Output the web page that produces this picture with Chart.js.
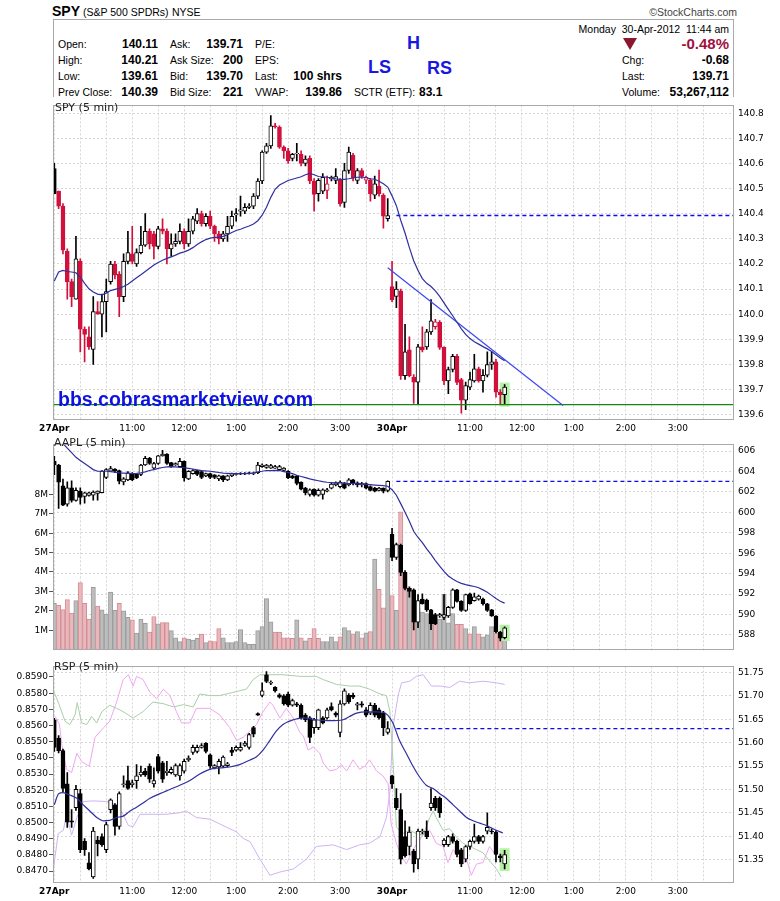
<!DOCTYPE html>
<html>
<head>
<meta charset="utf-8">
<title>SPY 5 min</title>
<script src="https://cdn.jsdelivr.net/npm/chart.js@4.4.1/dist/chart.umd.min.js"></script>
<style>
  html, body { margin: 0; padding: 0; background: #fff; }
  body { position: relative; width: 780px; height: 901px; overflow: hidden; font-family: "Liberation Sans", Arial, sans-serif; color: #000; }
  .t { position: absolute; white-space: nowrap; font-size: 10.5px; line-height: 12px; }
  .v { font-weight: bold; font-size: 12px; }
  .pat { position: absolute; font-weight: bold; font-size: 18px; line-height: 18px; color: #1818e0; }
  .lbl { position: absolute; z-index: 2; font-family: "DejaVu Sans", sans-serif; font-size: 11px; line-height: 12px; color: #222; white-space: nowrap; }
  canvas { position: absolute; left: 0; }
  #box { position: absolute; left: 53px; top: 19px; width: 681px; height: 78px; border: 1px solid #aaa; border-bottom: 0; box-sizing: border-box; }
  #tri { position: absolute; left: 623px; top: 38px; width: 0; height: 0; border-left: 7px solid transparent; border-right: 7px solid transparent; border-top: 12px solid #8a1730; }
  #wm { position: absolute; z-index: 2; left: 58px; top: 389px; font-weight: bold; font-size: 19.5px; line-height: 20px; color: #0d12e0; white-space: nowrap; }
</style>
</head>
<body>

<div class="t" style="left:52px;top:4px;font-size:14px;font-weight:bold;line-height:14px">SPY</div>
<div class="t" style="left:83px;top:6px">(S&amp;P 500 SPDRs)</div>
<div class="t" style="left:172px;top:6px">NYSE</div>
<div class="t" style="right:43px;top:6px;color:#444">&copy;StockCharts.com</div>

<div id="box"></div>
<div class="t" style="right:51px;top:23px">Monday&nbsp;&nbsp;30-Apr-2012&nbsp;&nbsp;11:44 am</div>

<div class="t" style="left:58px;top:38px">Open:</div>
<div class="t v" style="right:622px;top:38px">140.11</div>
<div class="t" style="left:170px;top:38px">Ask:</div>
<div class="t v" style="right:537px;top:38px">139.71</div>
<div class="t" style="left:255px;top:38px">P/E:</div>

<div class="t" style="left:58px;top:54px">High:</div>
<div class="t v" style="right:622px;top:54px">140.21</div>
<div class="t" style="left:170px;top:54px">Ask Size:</div>
<div class="t v" style="right:537px;top:54px">200</div>
<div class="t" style="left:255px;top:54px">EPS:</div>

<div class="t" style="left:58px;top:70px">Low:</div>
<div class="t v" style="right:622px;top:70px">139.61</div>
<div class="t" style="left:170px;top:70px">Bid:</div>
<div class="t v" style="right:537px;top:70px">139.70</div>
<div class="t" style="left:255px;top:70px">Last:</div>
<div class="t v" style="right:438px;top:70px">100 shrs</div>

<div class="t" style="left:58px;top:86px">Prev Close:</div>
<div class="t v" style="right:622px;top:86px">140.39</div>
<div class="t" style="left:170px;top:86px">Bid Size:</div>
<div class="t v" style="right:537px;top:86px">221</div>
<div class="t" style="left:255px;top:86px">VWAP:</div>
<div class="t v" style="right:438px;top:86px">139.86</div>
<div class="t" style="left:354px;top:86px">SCTR (ETF):</div>
<div class="t v" style="left:419px;top:86px">83.1</div>

<div class="pat" style="left:407px;top:34px">H</div>
<div class="pat" style="left:368px;top:58px">LS</div>
<div class="pat" style="left:427px;top:59px">RS</div>

<div id="tri"></div>
<div class="t" style="right:51px;top:36px;font-size:15px;line-height:16px;font-weight:bold;color:#a01040">-0.48%</div>
<div class="t" style="left:622px;top:54px">Chg:</div>
<div class="t v" style="right:51px;top:54px">-0.68</div>
<div class="t" style="left:622px;top:70px">Last:</div>
<div class="t v" style="right:51px;top:70px">139.71</div>
<div class="t" style="left:622px;top:86px">Volume:</div>
<div class="t v" style="right:51px;top:86px">53,267,112</div>

<canvas id="spyChart" width="780" height="340" style="top:96px"></canvas>
<canvas id="aaplChart" width="780" height="225" style="top:435px"></canvas>
<canvas id="rspChart" width="780" height="244" style="top:657px"></canvas>

<div class="lbl" style="left:55px;top:102px">SPY (5 min)</div>
<div class="lbl" style="left:54px;top:437px">AAPL (5 min)</div>
<div class="lbl" style="left:54px;top:661px">RSP (5 min)</div>
<div id="wm">bbs.cobrasmarketview.com</div>

<script>
// Time axis: one slot per 5-minute bar, 78 bars per session (27Apr = 0..77, 30Apr = 78..)
const xLabelSlots = [0, 18, 30, 42, 54, 66, 78, 96, 108, 120, 132, 144];
const xLabelText = ["27Apr", "11:00", "12:00", "1:00", "2:00", "3:00", "30Apr", "11:00", "12:00", "1:00", "2:00", "3:00"];
const xDaySlots = [0, 78];

// SPY 5 min candles
const spyPrevClose = 140.39;
const spyOpen = [140.58,140.49,140.43,140.25,140.13,140.06,140.21,139.94,139.91,139.86,
  140.01,140.00,140.05,140.13,140.20,140.16,140.07,140.21,140.24,140.20,
  140.245,140.275,140.33,140.32,140.27,140.34,140.33,140.26,140.28,140.29,
  140.33,140.28,140.33,140.37,140.40,140.36,140.39,140.35,140.32,140.30,
  140.32,140.35,140.395,140.41,140.41,140.425,140.43,140.47,140.53,140.645,
  140.67,140.75,140.745,140.665,140.65,140.62,140.638,140.636,140.60,140.62,
  140.53,140.48,140.49,140.493,140.538,140.532,140.535,140.445,140.572,140.632,
  140.532,140.572,140.533,140.535,140.474,140.51,140.474,140.38,
  140.11,140.071,140.093,139.755,139.858,139.75,139.73,139.87,139.87,139.93,
  139.95,139.968,139.868,139.735,139.78,139.832,139.74,139.658,139.71,139.735,
  139.783,139.735,139.757,139.80,139.81,139.69,139.68];
const spyHigh = [140.60,140.49,140.44,140.26,140.14,140.31,140.22,139.95,139.95,140.07,
  140.05,140.08,140.14,140.21,140.21,140.17,140.24,140.33,140.35,140.26,
  140.35,140.40,140.34,140.33,140.35,140.38,140.34,140.32,140.32,140.36,
  140.34,140.38,140.39,140.42,140.41,140.40,140.41,140.355,140.33,140.33,
  140.39,140.41,140.42,140.47,140.44,140.44,140.48,140.54,140.65,140.68,
  140.79,140.76,140.75,140.67,140.66,140.64,140.68,140.65,140.63,140.63,
  140.54,140.54,140.56,140.55,140.55,140.58,140.54,140.60,140.665,140.64,
  140.58,140.58,140.55,140.54,140.55,140.574,140.48,140.46,
  140.21,140.13,140.10,139.96,139.91,139.76,139.88,139.95,139.94,140.058,
  139.98,139.975,139.87,139.79,139.84,139.84,139.745,139.73,139.77,139.84,
  139.79,139.78,139.85,139.85,139.82,139.70,139.72];
const spyLow = [140.48,140.42,140.24,140.06,140.03,140.06,139.85,139.81,139.86,139.80,
  140.00,139.91,139.93,140.12,140.14,139.99,140.05,140.20,140.20,140.19,
  140.24,140.27,140.26,140.22,140.26,140.32,140.20,140.23,140.27,140.28,
  140.26,140.27,140.32,140.36,140.35,140.35,140.34,140.29,140.28,140.29,
  140.29,140.34,140.37,140.39,140.40,140.42,140.42,140.46,140.52,140.64,
  140.66,140.74,140.66,140.62,140.60,140.61,140.61,140.59,140.59,140.52,
  140.41,140.45,140.48,140.46,140.53,140.52,140.43,140.425,140.56,140.53,
  140.52,140.54,140.52,140.45,140.46,140.47,140.342,140.37,
  140.05,140.026,139.74,139.74,139.75,139.645,139.64,139.85,139.86,139.92,
  139.94,139.86,139.72,139.684,139.77,139.72,139.606,139.62,139.70,139.73,
  139.73,139.69,139.75,139.78,139.67,139.64,139.64];
const spyClose = [140.48,140.43,140.255,140.13,140.07,140.22,139.94,139.92,139.87,140.01,
  140.00,140.05,140.09,140.20,140.155,140.07,140.21,140.245,140.21,140.245,
  140.275,140.33,140.28,140.27,140.34,140.33,140.26,140.28,140.29,140.33,
  140.28,140.33,140.38,140.40,140.36,140.39,140.35,140.32,140.30,140.32,
  140.35,140.39,140.40,140.415,140.425,140.43,140.47,140.53,140.645,140.67,
  140.75,140.745,140.665,140.65,140.61,140.636,140.64,140.60,140.617,140.53,
  140.477,140.533,140.545,140.519,140.545,140.548,140.44,140.572,140.645,140.542,
  140.572,140.548,140.545,140.48,140.519,140.48,140.39,140.393,
  140.058,140.10,139.755,139.85,139.755,139.73,139.87,139.858,139.93,139.974,
  139.97,139.868,139.735,139.78,139.832,139.729,139.658,139.716,139.74,139.783,
  139.735,139.757,139.80,139.81,139.69,139.68,139.71];
const spyMa = [140.132,140.168,140.174,140.170,140.168,140.165,140.148,140.123,140.101,140.088,
  140.080,140.077,140.084,140.094,140.099,140.103,140.110,140.119,140.132,140.145,
  140.157,140.170,140.183,140.196,140.206,140.215,140.222,140.228,140.235,140.243,
  140.248,140.255,140.265,140.277,140.288,140.297,140.303,140.306,140.306,140.310,
  140.316,140.325,140.333,140.338,140.345,140.351,140.359,140.372,140.394,140.426,
  140.465,140.497,140.514,140.523,140.532,140.537,140.542,140.547,140.555,140.560,
  140.555,140.548,140.547,140.545,140.542,140.539,140.537,140.537,140.539,140.542,
  140.545,140.546,140.543,140.539,140.537,140.529,140.519,140.506,
  140.471,140.432,140.374,140.323,140.265,140.213,140.174,140.142,140.123,140.110,
  140.093,140.071,140.045,140.019,139.994,139.968,139.942,139.920,139.903,139.890,
  139.881,139.871,139.862,139.852,139.839,139.826,139.815];
const spySupport = 139.64;
const spyTrendX = [77, 117.5];
const spyTrendY = [140.185, 139.637];
const spyTicks = [139.6, 139.7, 139.8, 139.9, 140.0, 140.1, 140.2, 140.3, 140.4, 140.5, 140.6, 140.7, 140.8];

// AAPL 5 min candles and volume (millions)
const aaplOpen = [605.0,604.64,602.6,600.8,602.4,601.17,602.08,601.56,601.67,601.68,
  601.86,601.93,603.43,604.03,604.25,604.10,602.98,603.19,603.79,603.73,
  603.73,604.64,605.30,604.34,604.79,605.54,605.70,604.88,604.64,604.49,
  605.0,603.28,603.79,604.10,604.0,603.58,603.79,603.67,603.28,603.58,
  603.19,603.58,603.73,603.76,603.79,603.79,603.82,603.88,604.49,604.40,
  604.34,604.34,604.19,604.10,604.03,603.58,603.58,602.98,602.37,601.77,
  602.28,601.68,601.77,602.07,602.37,602.68,602.52,602.83,602.68,603.19,
  602.89,602.68,602.83,602.52,602.37,602.16,602.37,602.16,
  597.85,595.58,596.79,594.13,592.56,592.41,589.24,591.51,591.42,590.45,
  590.0,589.85,589.70,589.85,590.69,592.41,591.29,590.39,592.02,591.36,
  591.51,591.51,591.05,590.45,589.85,588.28,587.73];
const aaplHigh = [605.5,604.7,603.27,603.0,603.1,602.4,602.4,602.0,602.0,602.1,
  602.1,604.1,604.3,604.5,604.3,604.15,603.4,604.0,603.9,603.8,
  604.7,605.5,605.4,604.9,605.6,606.09,605.75,604.9,604.85,605.3,
  605.05,604.1,604.2,604.15,604.1,603.85,603.85,603.7,603.65,603.6,
  603.65,603.85,603.85,603.9,603.9,603.95,603.95,604.9,604.75,604.7,
  604.7,604.6,604.6,604.4,604.1,603.65,603.6,603.0,602.45,602.3,
  602.3,602.3,602.3,602.35,602.85,603.0,603.1,602.95,603.3,603.25,
  603.0,602.95,602.9,602.6,602.45,602.45,602.4,603.1,
  598.45,597.0,596.9,594.3,592.7,592.5,591.96,592.02,591.5,590.5,
  590.1,590.1,591.96,590.8,592.5,592.45,591.35,592.0,592.1,592.1,
  591.9,591.6,591.1,590.5,589.9,588.35,588.8];
const aaplLow = [603.7,600.4,600.65,600.6,601.0,601.1,600.8,600.9,601.6,601.2,
  601.2,601.9,603.3,604.0,603.9,602.8,602.7,603.1,603.1,603.3,
  603.6,604.6,604.7,604.2,604.7,605.5,604.7,604.4,604.6,604.45,
  603.07,603.2,603.75,603.6,603.3,603.5,603.3,603.3,603.1,603.0,
  603.1,603.5,603.65,603.7,603.7,603.75,603.7,603.8,604.4,604.3,
  604.3,604.3,604.1,604.0,603.3,603.3,602.7,602.2,601.7,601.6,
  601.6,601.6,601.3,602.0,602.3,602.6,602.4,602.3,602.6,602.7,
  602.5,602.5,602.3,602.1,602.0,602.1,601.9,602.0,
  595.28,595.4,593.8,592.4,591.7,588.49,588.7,591.0,590.3,588.5,
  589.0,589.7,589.5,589.7,590.6,591.2,590.3,590.3,591.0,591.3,
  591.4,590.9,590.3,589.8,588.2,587.4,587.6];
const aaplClose = [604.64,602.97,600.7,602.4,601.17,602.17,601.47,601.92,601.92,601.98,
  602.08,604.04,604.19,604.28,604.03,603.07,603.28,603.88,603.19,603.37,
  604.64,605.30,604.79,604.79,605.54,605.70,604.79,604.49,604.79,605.0,
  603.37,604.03,604.10,603.73,603.43,603.79,603.43,603.43,603.58,603.19,
  603.58,603.79,603.82,603.82,603.85,603.88,603.88,604.64,604.64,604.64,
  604.58,604.49,604.49,604.34,603.37,603.37,602.83,602.28,601.92,602.22,
  601.68,602.16,602.22,602.22,602.77,602.89,602.98,602.37,603.19,602.83,
  602.68,602.83,602.37,602.16,602.07,602.37,602.07,603.04,
  595.58,596.85,594.13,592.56,592.26,589.24,591.36,591.05,590.45,589.09,
  589.09,590.0,590.0,590.69,592.41,591.29,590.39,591.96,591.05,591.72,
  591.81,591.05,590.39,589.85,588.28,587.67,588.70];
const aaplMa = [607.6,607.2,606.75,606.30,605.85,605.39,605.09,604.79,604.49,604.19,
  604.03,604.03,604.03,604.00,603.94,603.88,603.85,603.82,603.79,603.82,
  603.88,603.97,604.10,604.19,604.31,604.40,604.46,604.49,604.46,604.40,
  604.37,604.31,604.25,604.16,604.10,604.06,604.03,603.97,603.91,603.85,
  603.82,603.79,603.79,603.79,603.79,603.82,603.85,603.97,604.03,604.10,
  604.10,604.12,604.10,604.00,603.91,603.79,603.64,603.52,603.40,603.28,
  603.19,603.10,603.01,602.95,602.92,602.89,602.89,602.86,602.83,602.83,
  602.80,602.77,602.74,602.71,602.68,602.65,602.62,602.56,
  602.22,601.68,600.86,600.02,599.14,598.15,597.54,597.03,596.43,595.88,
  595.28,594.74,594.22,593.77,593.47,593.23,593.05,592.92,592.83,592.74,
  592.62,592.41,592.17,591.87,591.57,591.30,591.11];
const aaplVolume = [2.39,2.29,2.07,2.58,1.88,2.53,3.45,2.39,1.57,3.21,
  2.24,2.05,1.83,2.96,2.02,2.39,2.00,1.67,1.54,0.85,
  1.57,1.36,0.91,1.71,1.33,1.39,1.39,0.98,0.61,0.42,
  0.61,0.54,0.50,0.58,0.80,0.37,0.46,0.42,1.09,0.61,
  0.37,0.37,0.42,1.04,0.37,0.27,0.27,0.98,1.19,2.63,
  1.44,0.90,0.90,0.61,0.61,0.58,1.54,0.61,0.46,0.58,
  1.09,0.58,0.42,0.42,0.66,0.42,0.66,1.14,0.98,0.82,
  0.93,0.61,0.87,0.93,4.66,3.11,2.15,5.22,
  2.79,2.02,7.10,3.97,3.17,2.37,2.15,1.94,1.86,1.38,
  1.30,1.57,2.85,1.38,1.86,1.30,1.30,1.09,0.82,1.19,
  0.82,0.66,0.77,1.19,0.87,0.61,0.58];
const aaplVolumeDown = [0,1,1,1,1,0,1,1,1,0, 1,0,0,0,0,1,0,0,1,0, 0,0,1,1,0,1,1,0,0,0,
  1,0,0,0,1,0,1,1,1,0, 0,0,0,0,0,0,0,0,0,0, 0,1,1,1,1,1,0,1,0,1, 1,1,0,0,0,0,1,0,0,1,
  0,1,0,1,0,1,1,0, 1,0,1,1,0,1,0,0,0,0, 1,0,0,0,0,1,1,0,1,0, 1,0,0,0,1,1,0];
const aaplTicks = [588, 590, 592, 594, 596, 598, 600, 602, 604, 606];
const volTicks = [1, 2, 3, 4, 5, 6, 7, 8];

// RSP 5 min candles
const rspOpen = [51.649,51.610,51.583,51.512,51.433,51.461,51.491,51.389,51.343,51.313,
  51.392,51.399,51.371,51.457,51.467,51.421,51.510,51.519,51.510,51.519,
  51.531,51.539,51.550,51.512,51.570,51.557,51.536,51.536,51.531,51.529,
  51.539,51.563,51.579,51.581,51.590,51.599,51.574,51.546,51.548,51.550,
  51.551,51.584,51.584,51.584,51.594,51.590,51.632,51.662,51.701,51.745,
  51.727,51.718,51.702,51.700,51.704,51.680,51.683,51.680,51.659,51.653,
  51.632,51.632,51.653,51.653,51.677,51.663,51.622,51.683,51.701,51.701,
  51.680,51.683,51.670,51.663,51.680,51.670,51.663,51.622,
  51.529,51.481,51.457,51.399,51.378,51.368,51.351,51.409,51.411,51.461,
  51.481,51.481,51.382,51.382,51.399,51.389,51.371,51.351,51.378,51.389,
  51.399,51.389,51.411,51.411,51.409,51.358,51.341];
const rspHigh = [51.652,51.615,51.586,51.536,51.457,51.509,51.500,51.395,51.365,51.419,
  51.400,51.405,51.430,51.480,51.470,51.495,51.529,51.550,51.520,51.553,
  51.550,51.545,51.555,51.546,51.575,51.560,51.560,51.548,51.555,51.555,
  51.565,51.572,51.595,51.595,51.598,51.600,51.576,51.553,51.565,51.572,
  51.558,51.590,51.593,51.600,51.603,51.620,51.635,51.664,51.728,51.752,
  51.732,51.720,51.705,51.703,51.708,51.693,51.686,51.683,51.662,51.656,
  51.652,51.672,51.656,51.674,51.685,51.666,51.690,51.715,51.705,51.706,
  51.686,51.688,51.675,51.685,51.684,51.674,51.667,51.645,
  51.530,51.502,51.491,51.433,51.420,51.372,51.415,51.415,51.433,51.502,
  51.485,51.484,51.395,51.402,51.405,51.392,51.374,51.380,51.392,51.426,
  51.402,51.402,51.450,51.415,51.412,51.362,51.370];
const rspLow = [51.581,51.578,51.495,51.419,51.419,51.455,51.365,51.359,51.328,51.310,
  51.358,51.378,51.365,51.450,51.402,51.415,51.505,51.500,51.505,51.502,
  51.528,51.528,51.515,51.505,51.535,51.515,51.530,51.533,51.528,51.520,
  51.535,51.560,51.575,51.578,51.588,51.578,51.545,51.544,51.533,51.548,
  51.548,51.572,51.582,51.582,51.592,51.586,51.612,51.658,51.698,51.728,
  51.724,51.708,51.695,51.680,51.677,51.678,51.677,51.650,51.645,51.600,
  51.620,51.628,51.640,51.650,51.668,51.655,51.612,51.680,51.684,51.694,
  51.670,51.676,51.655,51.660,51.655,51.650,51.615,51.618,
  51.502,51.457,51.341,51.355,51.360,51.323,51.330,51.405,51.395,51.455,
  51.455,51.440,51.378,51.378,51.385,51.356,51.335,51.345,51.372,51.385,
  51.384,51.385,51.405,51.405,51.345,51.345,51.330];
const rspClose = [51.590,51.583,51.502,51.430,51.430,51.500,51.371,51.371,51.330,51.411,
  51.384,51.382,51.425,51.478,51.421,51.491,51.512,51.502,51.514,51.529,
  51.537,51.531,51.522,51.519,51.539,51.522,51.539,51.543,51.551,51.551,
  51.560,51.567,51.590,51.590,51.594,51.581,51.550,51.551,51.560,51.569,
  51.555,51.579,51.590,51.590,51.599,51.617,51.618,51.659,51.711,51.731,
  51.729,51.711,51.697,51.683,51.680,51.690,51.680,51.653,51.649,51.611,
  51.649,51.670,51.642,51.670,51.670,51.659,51.683,51.711,51.687,51.697,
  51.683,51.680,51.659,51.680,51.659,51.653,51.632,51.630,
  51.512,51.461,51.351,51.358,51.409,51.341,51.411,51.411,51.399,51.471,
  51.461,51.450,51.392,51.399,51.389,51.361,51.341,51.378,51.389,51.399,
  51.389,51.399,51.419,51.409,51.361,51.354,51.361];
const rspMaX = [0,1,2,3.6,5.2,6.7,8.2,9.8,11.3,12.8,14.4,15.9,17.5,19,20.5,22.1,24.4,26.7,29,31.3,
  33.6,35.9,38.2,40.5,42.8,45.2,46.7,48.2,49.8,51.3,52.8,55.2,57.5,60.5,63.6,66.7,68.2,69.8,72,74.4,
  75.9,77,78.2,79.7,81.3,82.8,84.4,85.9,87.5,89,90.5,92.1,93.6,95.2,96.7,98.2,99.8,101.3,103.6];
const rspMaY = [51.467,51.491,51.493,51.488,51.481,51.467,51.454,51.440,51.433,51.434,
  51.440,51.443,51.454,51.462,51.471,51.481,51.491,51.500,51.509,51.519,
  51.533,51.543,51.546,51.548,51.553,51.563,51.570,51.584,51.605,51.625,
  51.639,51.649,51.653,51.649,51.647,51.649,51.656,51.663,51.666,51.666,
  51.665,51.659,51.642,51.605,51.577,51.550,51.526,51.509,51.502,51.491,
  51.481,51.467,51.454,51.440,51.433,51.428,51.423,51.416,51.407];
// thin overlay lines read on the left (ratio) scale
const rspGreenX = [-0.2,0.9,2.5,3.6,4.8,5.3,6.3,7.5,8.6,9.8,11,12.8,14.4,15.9,18.2,20.5,22.8,25.2,27.5,29.8,
  32.1,33.6,35.9,38.2,41.3,44.4,45.9,47.5,49.8,52.8,56.7,60.5,62.1,65.2,68.2,70.5,72.8,75.2,76.7,77.5,
  78.2,79,80.5,82.1,83.6,85.2,86.7,87.5,88.2,89.8,91.3,92.8,94.4,95.9,97.5,99,100.5,102.1,103.2];
const rspGreenY = [0.85815,0.85745,0.85626,0.85606,0.85666,0.85741,0.85616,0.85606,0.85656,0.85616,
  0.85686,0.85725,0.85706,0.85686,0.85646,0.85686,0.85745,0.85735,0.85715,0.85729,
  0.85715,0.85795,0.85785,0.85785,0.85805,0.85825,0.85884,0.85914,0.85914,0.85914,
  0.85904,0.85904,0.85884,0.85854,0.85844,0.85844,0.85825,0.85795,0.85785,0.85686,
  0.85388,0.84971,0.84932,0.84952,0.84932,0.84922,0.85031,0.85071,0.85031,0.84952,
  0.84962,0.84912,0.84872,0.84852,0.84833,0.84813,0.84763,0.84714,0.84664];
const rspPinkX = [0.2,1.2,1.7,2.8,4,5.2,6.3,8.1,9.4,11.4,12.8,14.4,15.9,17.1,18.2,19,20.5,22.1,23.6,25.2,
  26.7,28.2,29.4,31.3,32.8,35.9,38.2,40.5,42.1,43.6,45.2,46.7,48.2,49.8,50.5,52.1,53.6,55.2,56.7,57.5,
  58.6,59.8,61.3,62.1,63.6,65.2,66.3,67.5,69,70.5,71.7,72.8,74.4,75.9,77.1,77.8,79,80.2,81.3,82.8,
  84.4,85.5,86.7,88.2,89.8,90.9,92.1,93.2,94.4,95.2,96.3,97.5,99,100.5,102.1];
const rspPinkY = [0.85656,0.85606,0.85487,0.85329,0.85309,0.85428,0.85378,0.85348,0.85527,0.85587,
  0.85626,0.85745,0.85884,0.85914,0.85844,0.85904,0.85884,0.85805,0.85765,0.85825,
  0.85785,0.85686,0.85616,0.85616,0.85706,0.85706,0.85666,0.85587,0.85507,0.85527,
  0.85567,0.85606,0.85686,0.85745,0.85725,0.85646,0.85706,0.85646,0.85557,0.85537,
  0.85448,0.85467,0.85428,0.85368,0.85319,0.85329,0.85358,0.85319,0.85388,0.85329,
  0.85348,0.85388,0.85319,0.85289,0.85239,0.84991,0.84872,0.84793,0.84743,0.84833,
  0.84892,0.84942,0.84952,0.84872,0.84852,0.84753,0.84833,0.84793,0.84743,0.84773,
  0.84674,0.84743,0.84753,0.84852,0.84793];
const rspLavX = [-0.2,0.9,2.1,2.8,4,5.2,6.7,9,12.1,14.4,15.9,17.1,18.2,19.8,22.1,25.9,29,30.5,32.8,35.9,
  39.8,42.1,43.6,45.2,47.5,49.8,52.1,55.2,58.2,60.5,64.4,67.5,70.5,72.8,75.2,76.7,77.5,78.2,79.4,80.2,
  82.1,83.6,85.2,87.1,89.4,91.3,93.6,95.9,99,102.1,104];
const rspLavY = [0.84713,0.84932,0.84952,0.85051,0.84922,0.85031,0.85130,0.85134,0.85130,0.85110,
  0.85051,0.84981,0.84975,0.85051,0.85051,0.85051,0.85061,0.85071,0.85031,0.85021,
  0.84971,0.84942,0.84902,0.84882,0.84773,0.84674,0.84694,0.84713,0.84773,0.84852,
  0.84862,0.84833,0.84862,0.84872,0.84912,0.85031,0.85190,0.85587,0.85785,0.85864,
  0.85874,0.85904,0.85914,0.85844,0.85844,0.85835,0.85874,0.85864,0.85874,0.85864,0.85854];
const rspTicks = [51.35, 51.40, 51.45, 51.50, 51.55, 51.60, 51.65, 51.70, 51.75];
const ratioTicks = [0.847, 0.848, 0.849, 0.850, 0.851, 0.852, 0.853, 0.854, 0.855, 0.856, 0.857, 0.858, 0.859];

// ---- drawing ----
Chart.defaults.font.family = "DejaVu Sans";
const RED = "#d1103c";
const N = spyClose.length;
const idx = Array.from({ length: N }, (_, i) => i);
const xMin = -0.3, xMax = 156.97;
const dashStart = 79; // first bar after the overnight gap
const gridSlots = Array.from({ length: 26 }, (_, k) => k * 6); // every half hour

const frame = {
  id: "frame",
  afterDraw(chart) {
    const { ctx, chartArea: a } = chart;
    ctx.save();
    ctx.strokeStyle = "#a9a9a9";
    ctx.lineWidth = 1;
    ctx.strokeRect(Math.round(a.left) + 0.5, Math.round(a.top) + 0.5,
      Math.round(a.right - a.left) - 1, Math.round(a.bottom - a.top) - 1);
    ctx.restore();
  }
};

function pts(xs, ys) { return xs.map((x, k) => ({ x, y: ys[k] })); }

function candles(o, h, l, c, colorOf, yAxisID) {
  const col = idx.map(colorOf);
  return [
    { type: "bar", yAxisID, order: 3, grouped: false, barThickness: 1,
      data: idx.map(i => ({ x: i, y: [l[i], h[i]] })), backgroundColor: col },
    { type: "bar", yAxisID, order: 2, grouped: false, barThickness: 4,
      borderWidth: 1, borderSkipped: false,
      data: idx.map(i => ({ x: i, y: [o[i], c[i]] })),
      backgroundColor: idx.map(i => (c[i] >= o[i] ? "#fff" : col[i])), borderColor: col }
  ];
}

function lastHighlight(h, l, yAxisID) {
  const i = N - 1;
  return { type: "bar", yAxisID, order: 5, grouped: false, barThickness: 6, inflateAmount: 2,
    data: [{ x: i, y: [l[i], h[i]] }], backgroundColor: "#b6f2a6" };
}

function line(data, color, yAxisID, extra) {
  return Object.assign({ type: "line", yAxisID, order: 1, data, borderColor: color,
    borderWidth: 1.2, pointRadius: 0, fill: false, tension: 0 }, extra || {});
}

function prevCloseLine(level, yAxisID) {
  return line([{ x: dashStart, y: level }, { x: xMax, y: level }], "#0a0af0", yAxisID,
    { borderDash: [4, 3], borderWidth: 1.4 });
}

function xAxis(showLabels, height) {
  return {
    type: "linear", min: xMin, max: xMax, offset: false,
    afterBuildTicks: s => { s.ticks = gridSlots.map(value => ({ value })); },
    afterFit: s => { s.height = height; },
    grid: { color: "#d6d6d6", drawTicks: false, offset: false },
    border: { display: false, dash: [2, 2] },
    ticks: {
      display: showLabels, autoSkip: false, maxRotation: 0, minRotation: 0, padding: 3, color: "#000",
      font: c => ({ family: "DejaVu Sans", size: 9,
        weight: c.tick && xDaySlots.includes(c.tick.value) ? "bold" : "normal" }),
      callback: v => { const k = xLabelSlots.indexOf(v); return k < 0 ? "" : xLabelText[k]; }
    }
  };
}

function priceAxis(min, max, ticks, digits) {
  return {
    type: "linear", axis: "y", position: "right", min, max,
    afterBuildTicks: s => { s.ticks = ticks.map(value => ({ value })); },
    afterFit: s => { s.width = 46; },
    grid: { color: "#d6d6d6", drawTicks: false },
    border: { display: false, dash: [2, 2] },
    ticks: { padding: 4, color: "#000", font: { family: "DejaVu Sans", size: 9 },
      callback: v => v.toFixed(digits) }
  };
}

function leftAxis(min, max, ticks, fmt) {
  return {
    type: "linear", axis: "y", position: "left", min, max,
    afterBuildTicks: s => { s.ticks = ticks.map(value => ({ value })); },
    afterFit: s => { s.width = 53; },
    grid: { drawOnChartArea: false, drawTicks: true, tickLength: 4, color: "#555" },
    border: { display: false },
    ticks: { padding: 1, color: "#000", font: { family: "DejaVu Sans", size: 9 }, callback: fmt }
  };
}

function options(scales, padding) {
  return {
    responsive: false, maintainAspectRatio: false, animation: false, events: [],
    layout: { padding },
    plugins: { legend: { display: false }, tooltip: { enabled: false } },
    scales
  };
}

// SPY panel
new Chart(document.getElementById("spyChart"), {
  type: "bar",
  data: {
    datasets: [
      lastHighlight(spyHigh, spyLow, "y"),
      ...candles(spyOpen, spyHigh, spyLow, spyClose,
        i => (spyClose[i] < (i === 0 ? spyPrevClose : spyClose[i - 1]) ? RED : "#000"), "y"),
      line(idx.map(i => ({ x: i, y: spyMa[i] })), "#2f2f9f", "y"),
      line(pts(spyTrendX, spyTrendY), "#3b48f0", "y"),
      prevCloseLine(spyClose[77], "y"),
      line([{ x: xMin, y: spySupport }, { x: xMax, y: spySupport }], "#118811", "y", { borderWidth: 1.3 })
    ]
  },
  options: options({ x: xAxis(true, 16), y: priceAxis(139.579, 140.831, spyTicks, 1) },
    { left: 53, top: 1, right: 0, bottom: 0 }),
  plugins: [frame]
});

// AAPL panel with volume
new Chart(document.getElementById("aaplChart"), {
  type: "bar",
  data: {
    datasets: [
      { type: "bar", yAxisID: "vol", order: 6, grouped: false, barThickness: 4.33, borderWidth: 1, borderSkipped: false,
        data: idx.map(i => ({ x: i, y: aaplVolume[i] })),
        backgroundColor: idx.map(i => (aaplVolumeDown[i] ? "#e8b8bc" : "#bdbdbd")),
        borderColor: idx.map(i => (aaplVolumeDown[i] ? "#d48c94" : "#9c9c9c")) },
      lastHighlight(aaplHigh, aaplLow, "y"),
      ...candles(aaplOpen, aaplHigh, aaplLow, aaplClose, () => "#000", "y"),
      line(idx.map(i => ({ x: i, y: aaplMa[i] })), "#2f2f9f", "y"),
      prevCloseLine(aaplClose[77], "y")
    ]
  },
  options: options({
    x: xAxis(false, 1),
    y: priceAxis(586.46, 606.66, aaplTicks, 0),
    vol: leftAxis(-0.048, 10.571, volTicks, v => v + "M")
  }, { left: 0, top: 1, right: 0, bottom: 0 }),
  plugins: [frame]
});

// RSP panel
new Chart(document.getElementById("rspChart"), {
  type: "bar",
  data: {
    datasets: [
      line(pts(rspGreenX, rspGreenY), "#a9cfa9", "ratio", { borderWidth: 1, order: 7 }),
      line(pts(rspPinkX, rspPinkY), "#f0a6ee", "ratio", { borderWidth: 1, order: 7 }),
      line(pts(rspLavX, rspLavY), "#cdb3f2", "ratio", { borderWidth: 1, order: 7 }),
      lastHighlight(rspHigh, rspLow, "y"),
      ...candles(rspOpen, rspHigh, rspLow, rspClose, () => "#000", "y"),
      line(pts(rspMaX, rspMaY), "#2f2f9f", "y", { cubicInterpolationMode: "monotone" }),
      prevCloseLine(rspClose[77], "y")
    ]
  },
  options: options({
    x: xAxis(true, 18),
    y: priceAxis(51.300, 51.763, rspTicks, 2),
    ratio: leftAxis(0.846262, 0.859655, ratioTicks, v => v.toFixed(4))
  }, { left: 0, top: 1, right: 0, bottom: 0 }),
  plugins: [frame]
});
</script>
</body>
</html>
